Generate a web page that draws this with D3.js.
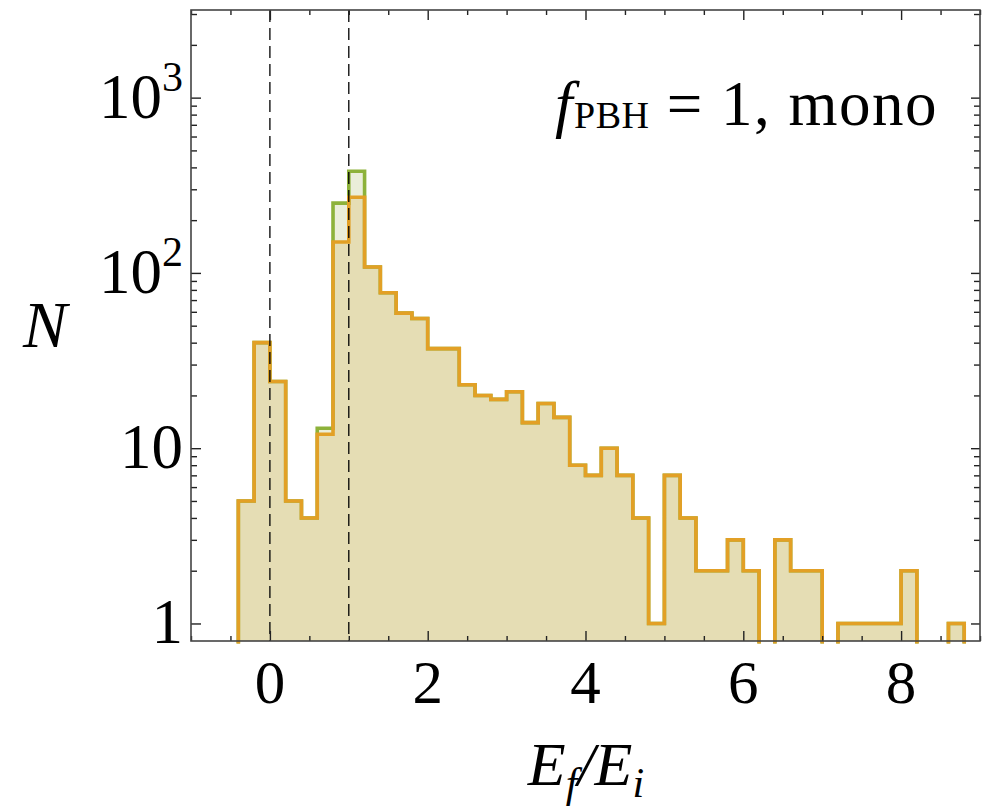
<!DOCTYPE html>
<html><head><meta charset="utf-8">
<script src="https://cdn.jsdelivr.net/npm/d3@7"></script>
<style>body{margin:0;background:#fff}</style>
</head><body><svg id="c" width="989" height="806"></svg>
<script>
// ---- data ----
const binStart = -0.4;
const binWidth = 0.2;
// counts per bin, bins from -0.4 to 8.8 in steps of 0.2
const countsOrange = [5,40,24,5,4,12,150,270,108,77,59,55,37,37,23,20,19,21,14,18,15,8,7,10,7,4,1,7,4,2,2,3,2,0,3,2,2,0,1,1,1,1,2,0,0,1];
const countsGreen  = [5,40,24,5,4,13,250,380,108,77,59,55,37,37,23,20,19,21,14,18,15,8,7,10,7,4,1,7,4,2,2,3,2,0,3,2,2,0,1,1,1,1,2,0,0,1];
const xMajorTicks = [0,2,4,6,8];
const xMinorTicks = [-1,-0.5,0.5,1,1.5,2.5,3,3.5,4.5,5,5.5,6.5,7,7.5,8.5,9];
const yMajorTicks = [1,10,100,1000];
const yTickLabels = [["1",""],["10",""],["10","2"],["10","3"]];
const refLines = [0,1];

// ---- layout ----
const L=191, R=980, T=10, B=641;
const svg = d3.select("#c");
const x = d3.scaleLinear().domain([-1,9]).range([L,R]);
const y = d3.scaleLog().domain([Math.pow(10,-0.1), Math.pow(10,3.5)]).range([B,T]);
const yMinorTicks = [];
[1,10,100,1000].forEach(d=>{for(let k=2;k<=9;k++){const v=d*k; if(v<=3162) yMinorTicks.push(v);}});

const font = "'Liberation Serif','Times New Roman',serif";

function stepPath(counts, yb, closed){
  let d="", inRun=false;
  counts.forEach((c,i)=>{
    const x0=x(+(binStart+i*binWidth).toFixed(3)), x1=x(+(binStart+(i+1)*binWidth).toFixed(3));
    if(c>0){
      const yy=y(c);
      if(!inRun){ d+=`M${x0},${yb}V${yy}`; inRun=true; } else d+=`V${yy}`;
      d+=`H${x1}`;
    } else if(inRun){ d+=`V${yb}`+(closed?"Z":""); inRun=false; }
  });
  if(inRun) d+=`V${yb}`+(closed?"Z":"");
  return d;
}

// fills
svg.append("path").attr("d",stepPath(countsGreen,B,true)).attr("fill","#eaeed9").attr("stroke","none");
svg.append("path").attr("d",stepPath(countsOrange,B,true)).attr("fill","#e5ddb4").attr("stroke","none");
// outlines
svg.append("path").attr("d",stepPath(countsGreen,B+2.5,false)).attr("fill","none").attr("stroke","#8db23a").attr("stroke-width",3.6);
svg.append("path").attr("d",stepPath(countsOrange,B+2.5,false)).attr("fill","none").attr("stroke","#e2a026").attr("stroke-width",3.6);

// reference dashed lines
svg.selectAll("line.ref").data(refLines).enter().append("line")
  .attr("x1",d=>x(d)).attr("x2",d=>x(d)).attr("y1",T).attr("y2",B)
  .attr("stroke","#000").attr("stroke-width",1.3).attr("stroke-dasharray","12,6");

// axes (ticks inward)
function addAxis(axis, tr){
  const g = svg.append("g").attr("transform",tr).call(axis);
  g.select(".domain").remove();
  g.selectAll(".tick line").attr("stroke","#222").attr("stroke-width",1.4);
  g.selectAll(".tick text").remove();
  return g;
}
addAxis(d3.axisBottom(x).tickValues(xMajorTicks).tickSize(-10).tickSizeOuter(0).tickFormat(""), `translate(0,${B})`);
addAxis(d3.axisBottom(x).tickValues(xMinorTicks).tickSize(-5).tickSizeOuter(0).tickFormat(""), `translate(0,${B})`);
addAxis(d3.axisTop(x).tickValues(xMajorTicks).tickSize(-10).tickSizeOuter(0).tickFormat(""), `translate(0,${T})`);
addAxis(d3.axisTop(x).tickValues(xMinorTicks).tickSize(-5).tickSizeOuter(0).tickFormat(""), `translate(0,${T})`);
addAxis(d3.axisLeft(y).tickValues(yMajorTicks).tickSize(-10).tickSizeOuter(0).tickFormat(""), `translate(${L},0)`);
addAxis(d3.axisLeft(y).tickValues(yMinorTicks).tickSize(-6).tickSizeOuter(0).tickFormat(""), `translate(${L},0)`);
addAxis(d3.axisRight(y).tickValues(yMajorTicks).tickSize(-9).tickSizeOuter(0).tickFormat(""), `translate(${R},0)`);
addAxis(d3.axisRight(y).tickValues(yMinorTicks).tickSize(-6).tickSizeOuter(0).tickFormat(""), `translate(${R},0)`);

// frame
svg.append("rect").attr("x",L).attr("y",T).attr("width",R-L).attr("height",B-T)
  .attr("fill","none").attr("stroke","#444").attr("stroke-width",1.6);

// tick labels
svg.selectAll("text.xl").data(xMajorTicks).enter().append("text")
  .attr("x",d=>x(d)).attr("y",703).attr("text-anchor","middle")
  .attr("font-family",font).attr("font-size",61).text(d=>d);

yMajorTicks.forEach((v,i)=>{
  const t = svg.append("text").attr("x",183).attr("y",y(v)+20).attr("text-anchor","end")
    .attr("font-family",font).attr("font-size",63);
  t.append("tspan").text(yTickLabels[i][0]);
  if(yTickLabels[i][1]) t.append("tspan").attr("dy",-27).attr("font-size",42).text(yTickLabels[i][1]);
});

// axis labels
svg.append("text").attr("x",45).attr("y",347).attr("text-anchor","middle")
  .attr("font-family",font).attr("font-style","italic").attr("font-size",66).text("N");

const xl = svg.append("text").attr("x",586).attr("y",785).attr("text-anchor","middle")
  .attr("font-family",font).attr("font-style","italic").attr("font-size",62);
xl.append("tspan").text("E");
xl.append("tspan").attr("dy",12).attr("font-size",42).text("f");
xl.append("tspan").attr("dy",-12).text("/E");
xl.append("tspan").attr("dy",12).attr("font-size",42).text("i");

// annotation
const ann = svg.append("text").attr("x",938).attr("y",125).attr("text-anchor","end")
  .attr("font-family",font).attr("font-size",63).attr("letter-spacing",1.5);
ann.append("tspan").attr("font-style","italic").text("f");
ann.append("tspan").attr("dy",3).attr("font-size",38).attr("letter-spacing",0.5).text("PBH");
ann.append("tspan").attr("dy",-3).text(" = 1, mono");
</script>
</body></html>
